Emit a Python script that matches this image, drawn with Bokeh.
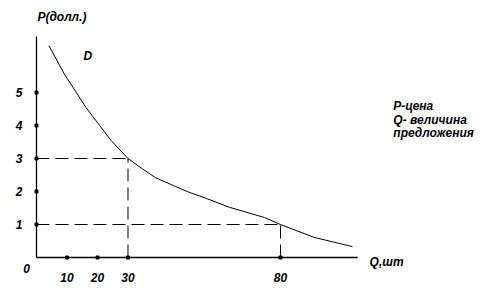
from bokeh.plotting import figure
from bokeh.models import Range1d
from bokeh.core.properties import value
from bokeh.embed import file_html
from bokeh.resources import INLINE

# demand curve D (Q in units, P in dollars)
curve_q = [4.1, 9.0, 16.2, 24.4, 30.0, 34.5, 39.0, 44.9, 49.4, 55.7, 63.3,
           74.8, 80.0, 91.0, 103.6]
curve_p = [6.42, 5.58, 4.55, 3.55, 3.0, 2.70, 2.42, 2.18, 2.0, 1.79, 1.52,
           1.21, 1.0, 0.61, 0.33]

y_ticks = [1, 2, 3, 4, 5]
y_tick_labels = ["1", "2", "3", "4", "5"]
x_ticks = [10, 20, 30, 80]
x_tick_labels = ["10", "20", "30", "80"]

# marked points (Q, P) with dashed guides
mark_q = [30, 80]
mark_p = [3, 1]

x_axis_end = 105.3
y_axis_end = 6.7

FONT = "Liberation Sans"

p = figure(width=493, height=300, output_backend="svg", toolbar_location=None,
           x_range=Range1d(-11.80, 149.84), y_range=Range1d(-1.303, 7.788),
           x_axis_location=None, y_axis_location=None, min_border=0)
p.grid.visible = False
p.outline_line_color = None
p.background_fill_color = "white"
p.border_fill_color = "white"

# axes
p.segment(x0=[0, 0], y0=[0, 0], x1=[x_axis_end, 0], y1=[0, y_axis_end],
          line_color="black", line_width=1.3)

# tick dots
p.scatter(x=[0] * len(y_ticks), y=y_ticks, marker="square", size=3,
          color="black")
p.scatter(x=x_ticks, y=[0] * len(x_ticks), marker="square", size=3,
          color="black")

# dashed guides
hx0 = [0] * len(mark_q)
p.segment(x0=hx0, y0=mark_p, x1=mark_q, y1=mark_p, line_color="black",
          line_width=1, line_dash="13 6")
p.segment(x0=mark_q, y0=[0] * len(mark_q), x1=mark_q, y1=mark_p,
          line_color="black", line_width=1, line_dash="13 6")

# curve
p.line(curve_q, curve_p, line_color="black", line_width=1)

style = dict(text_font=value(FONT), text_font_style="bold italic",
             text_font_size="12px", text_color="black")

# tick labels
p.text(x=[0] * len(y_ticks), y=y_ticks, text=y_tick_labels, x_offset=-14,
       text_align="right", text_baseline="middle", **style)
p.text(x=x_ticks, y=[0] * len(x_ticks), text=x_tick_labels, y_offset=20,
       text_align="center", text_baseline="middle", **style)
p.text(x=[0], y=[0], text=["0"], x_offset=-10, y_offset=11,
       text_align="center", text_baseline="middle", **style)

# titles / annotations
p.text(x=[0.3], y=[7.3], text=["P(долл.)"], text_align="left",
       text_baseline="middle", **style)
p.text(x=[15.4], y=[6.12], text=["D"], text_align="left",
       text_baseline="middle", **style)
p.text(x=[109.2], y=[-0.15], text=["Q,шт"], text_align="left",
       text_baseline="middle", **style)
p.text(x=[117, 117, 117], y=[4.58, 4.18, 3.76],
       text=["P-цена", "Q- величина", "предложения"], text_align="left",
       text_baseline="middle", **style)

open("out.html", "w").write(file_html(p, INLINE))
